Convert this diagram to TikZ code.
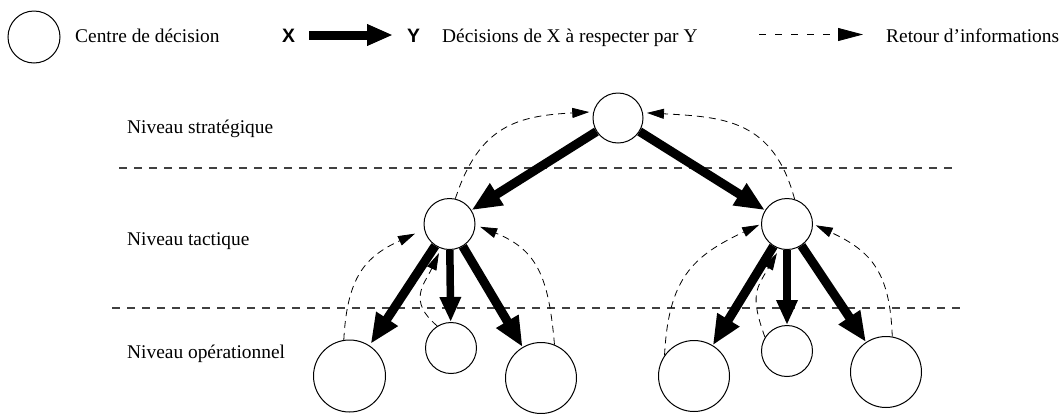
\documentclass[tikz,border=0pt]{standalone}
\usepackage{fontspec}
\setmainfont{Liberation Serif}
\newfontfamily\xysans{Liberation Sans}
\usetikzlibrary{arrows.meta}
\begin{document}
\begin{tikzpicture}[x=1pt,y=1pt,
  every node/.style={inner sep=0pt,font=\fontsize{19.4}{23}\selectfont},
  centre/.style={circle,draw,line width=1pt,minimum size=#1},
  label/.style={anchor=base west},
  decision/.style={line width=9pt,-{Triangle[width=24pt,length=30pt]}},
  decisionv/.style={line width=7.5pt,-{Triangle[width=20pt,length=25pt]}},
  retour/.style={line width=0.8pt,dash pattern=on 7pt off 5pt,-{Triangle[width=10pt,length=17pt]}},
  niveau/.style={line width=1.2pt,black!75,dash pattern=on 8pt off 7pt}]
\useasboundingbox (0,0) rectangle (1063,-413);
% legend
\node[centre=52pt] (lc) at (34,-37) {};
\node[label] (lct) at (75,-42.5) {Centre de décision};
\node[label,font=\fontsize{19.4}{23}\xysans\bfseries] (lx) at (282,-42.5) {X};
\coordinate (la1) at (309,-35);
\coordinate (la2) at (393,-35);
\draw[line width=9pt,-{Triangle[width=20pt,length=26pt]}] (la1) -- (la2);
\node[label,font=\fontsize{19.4}{23}\xysans\bfseries] (ly) at (407,-42.5) {Y};
\node[label] (lyt) at (442,-42.5) {Décisions de X à respecter par Y};
\coordinate (lr1) at (759,-34.5);
\coordinate (lr2) at (863,-34.5);
\draw[line width=0.8pt,dash pattern=on 7pt off 9pt,-{Triangle[width=13pt,length=25pt]}] (lr1) -- (lr2);
\node[label] (lrt) at (886,-42.5) {Retour d’informations};
% levels
\node[label] (ns) at (127,-133) {Niveau stratégique};
\node[label] (nt) at (127,-245) {Niveau tactique};
\node[label] (no) at (127,-358) {Niveau opérationnel};
\coordinate (h1a) at (119,-168);
\coordinate (h1b) at (955,-168);
\coordinate (h2a) at (112,-308);
\coordinate (h2b) at (963,-308);
\draw[niveau] (h1a) -- (h1b);
\draw[niveau] (h2a) -- (h2b);
% decision centres
\node[centre=50pt] (top) at (618,-118) {};
\node[centre=51pt] (tl) at (449.5,-224) {};
\node[centre=51pt] (tr) at (787,-224) {};
\node[centre=72pt] (ol1) at (349.5,-376) {};
\node[centre=51pt] (ol2) at (451,-348) {};
\node[centre=71pt] (ol3) at (541,-378) {};
\node[centre=71pt] (or1) at (694,-376) {};
\node[centre=51pt] (or2) at (787,-351) {};
\node[centre=71pt] (or3) at (886,-372) {};
% decisions
\draw[decision] (top) -- (tl);
\draw[decision] (top) -- (tr);
\draw[decision,shorten >=2pt] (tl) -- (ol1);
\draw[decisionv] (tl) -- (ol2);
\draw[decision] (tl) -- (ol3);
\draw[decision] (tr) -- (or1);
\draw[decisionv] (tr) -- (or2);
\draw[decision] (tr) -- (or3);
% feedback
\draw[retour,shorten >=4pt] (tl.77) to[out=72,in=183,looseness=1.2] (top.166);
\draw[retour,shorten >=4pt] (tr.73) to[out=105,in=-3,looseness=1.2] (top.12);
\draw[retour,shorten >=10pt] (ol1.99) to[out=87,in=205,looseness=1.2] (tl.192);
\draw[retour,shorten >=5pt] (ol2.122) to[out=140,in=245,looseness=1.3] (tl.251);
\draw[retour,shorten >=5pt] (ol3.68) to[out=95,in=-22,looseness=1.2] (tl.-2);
\draw[retour,shorten >=2pt] (or1.145) to[out=87,in=205,looseness=1.2] (tr.180);
\draw[retour,shorten >=5pt] (or2.148) to[out=110,in=240,looseness=1.3] (tr.253);
\draw[retour,shorten >=3pt] (or3.80) to[out=92,in=-25,looseness=1.2] (tr.0);
\end{tikzpicture}
\end{document}
